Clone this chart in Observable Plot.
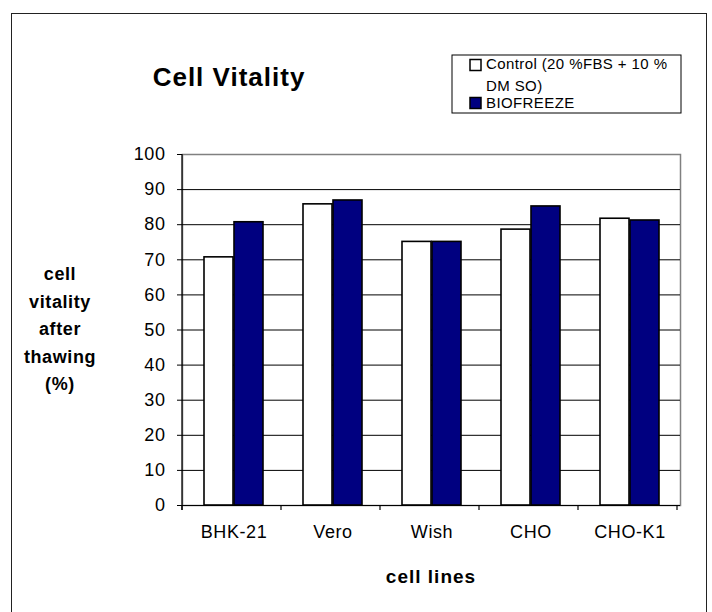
<!DOCTYPE html>
<html>
<head>
<meta charset="utf-8">
<script src="https://cdn.jsdelivr.net/npm/d3@7"></script>
<script src="https://cdn.jsdelivr.net/npm/@observablehq/plot@0.6"></script>
<style>
  body { margin: 0; background: #fff; }
  #wrap { position: relative; width: 712px; height: 612px; overflow: hidden; background: #fff; font-family: "Liberation Sans", Arial, sans-serif; }
  #frame { position: absolute; left: 11px; top: 13px; width: 694px; height: 640px; border: 1.5px solid #222; pointer-events: none; }
  #chart { position: absolute; left: 0; top: 0; }
  #overlay { position: absolute; left: 0; top: 0; }
  svg text { font-family: "Liberation Sans", Arial, sans-serif; }
</style>
</head>
<body>
<div id="wrap">
  <div id="chart"></div>
  <svg id="overlay" width="712" height="612"></svg>
  <div id="frame"></div>
</div>
<script>
const categories = ["BHK-21", "Vero", "Wish", "CHO", "CHO-K1"];
const controlValues = [70.7, 85.8, 75.1, 78.6, 81.7];
const biofreezeValues = [80.7, 86.9, 75.1, 85.2, 81.2];
const seriesNames = ["Control (20 %FBS + 10 %", "DM SO)", "BIOFREEZE"];
const yTicks = [0, 10, 20, 30, 40, 50, 60, 70, 80, 90, 100];
const gridTicks = [10, 20, 30, 40, 50, 60, 70, 80, 90];
const titleText = "Cell Vitality";
const yLabelLines = ["cell", "vitality", "after", "thawing", "(%)"];
const xLabelText = "cell lines";
const colorControl = "#ffffff";
const colorBio = "#000080";

const rows = categories.map((c, i) => ({cat: c, control: controlValues[i], bio: biofreezeValues[i]}));

const chart = Plot.plot({
  width: 712,
  height: 612,
  marginLeft: 182,
  marginRight: 32,
  marginTop: 154,
  marginBottom: 107,
  style: {fontFamily: "'Liberation Sans', Arial, sans-serif", fontSize: "18px", color: "#000", background: "transparent"},
  x: {domain: categories, padding: 0, label: null},
  y: {domain: [0, 100], label: null},
  marks: [
    Plot.frame({stroke: "#808080", strokeWidth: 1.5}),
    Plot.ruleY(gridTicks, {stroke: "#000", strokeWidth: 1}),
    Plot.barY(rows, {x: "cat", y: "control", fill: colorControl, stroke: "#000", strokeWidth: 1.6, insetLeft: 20, insetRight: 50}),
    Plot.barY(rows, {x: "cat", y: "bio", fill: colorBio, stroke: "#000", strokeWidth: 1.6, insetLeft: 50, insetRight: 20}),
    Plot.ruleY([0], {stroke: "#000", strokeWidth: 1.2}),
    Plot.axisY({ticks: yTicks, tickSize: 5, tickPadding: 12, label: null, fontSize: 18}),
    Plot.axisX({tickSize: 0, tickPadding: 20, label: null, fontSize: 18})
  ]
});
document.getElementById("chart").appendChild(chart);

const sx = chart.scale("x");
const sy = chart.scale("y");
const svg = d3.select(chart);
svg.selectAll("text").style("letter-spacing", "0.6px");
const x0 = sx.range[0], x1 = sx.range[1];
const yTop = sy.apply(100), yBot = sy.apply(0);
// left axis line
svg.append("line").attr("x1", x0).attr("x2", x0).attr("y1", yTop).attr("y2", yBot + 5)
  .attr("stroke", "#000").attr("stroke-width", 1.2);
// category boundary ticks
const bounds = d3.range(categories.length + 1).map(i => x0 + i * sx.step);
svg.append("g").selectAll("line").data(bounds).join("line")
  .attr("x1", d => d).attr("x2", d => d).attr("y1", yBot).attr("y2", yBot + 5)
  .attr("stroke", "#000").attr("stroke-width", 1.2);

// overlay texts
const ov = d3.select("#overlay");
ov.append("text").attr("x", 229).attr("y", 86).attr("text-anchor", "middle")
  .style("font-size", "26px").style("font-weight", "bold").style("letter-spacing", "1px").text(titleText);

ov.append("g").selectAll("text").data(yLabelLines).join("text")
  .attr("x", 60).attr("y", (d, i) => 280 + i * 27.5).attr("text-anchor", "middle")
  .style("font-size", "18px").style("font-weight", "bold").style("letter-spacing", "0.6px").text(d => d);

ov.append("text").attr("x", (x0 + x1) / 2).attr("y", 583).attr("text-anchor", "middle")
  .style("font-size", "19px").style("font-weight", "bold").style("letter-spacing", "1px").text(xLabelText);

// legend
const lg = ov.append("g");
lg.append("rect").attr("x", 452).attr("y", 55).attr("width", 229).attr("height", 58)
  .attr("fill", "#fff").attr("stroke", "#000").attr("stroke-width", 1);
lg.append("rect").attr("x", 470).attr("y", 59.5).attr("width", 11).attr("height", 11)
  .attr("fill", colorControl).attr("stroke", "#000").attr("stroke-width", 1.5);
lg.append("rect").attr("x", 470).attr("y", 97.5).attr("width", 11).attr("height", 11)
  .attr("fill", colorBio).attr("stroke", "#000").attr("stroke-width", 1.5);
lg.selectAll("text.l").data(seriesNames).join("text")
  .attr("x", 486).attr("y", (d, i) => [69, 91, 108][i])
  .style("font-size", "15px").style("letter-spacing", "0.4px").text(d => d);
</script>
</body>
</html>
